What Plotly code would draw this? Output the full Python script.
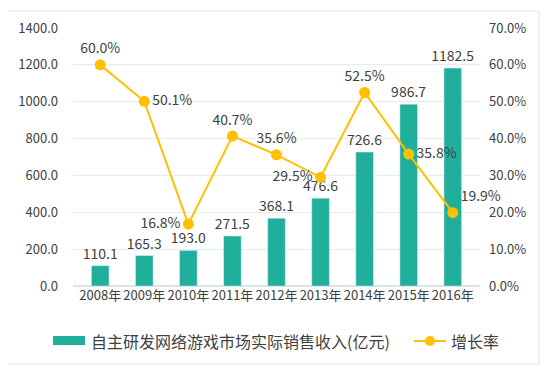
import plotly.graph_objects as go

years = ["2008年", "2009年", "2010年", "2011年", "2012年", "2013年", "2014年", "2015年", "2016年"]
revenue = [110.1, 165.3, 193.0, 271.5, 368.1, 476.6, 726.6, 986.7, 1182.5]
growth = [0.600, 0.501, 0.168, 0.407, 0.356, 0.295, 0.525, 0.358, 0.199]
growth_pos = ["top center", "middle right", "middle left", "top center", "top center",
              "middle left", "top center", "middle right", "top right"]
bar_name = "自主研发网络游戏市场实际销售收入(亿元)"
line_name = "增长率"

FONT = "Noto Sans CJK SC, Noto Sans, sans-serif"
TXT = "#404040"
TEAL = "#1FAF9B"
GOLD = "#FFC000"

OFF = 8  # page body margin
W, H = 556 - OFF, 384 - OFF
L, T = 73 - OFF, 28 - OFF
R = W - (480 - OFF)
B = H - (286 - OFF)
PW, PH = W - L - R, H - T - B


def px(x):
    return (x - OFF - L) / PW


def py(y):
    return (H - B - (y - OFF)) / PH


fig = go.Figure()
fig.add_trace(go.Bar(
    x=years, y=revenue, name=bar_name,
    marker=dict(color=TEAL), width=0.4,
    text=[f"{v:.1f}" for v in revenue], textposition="outside", constraintext="none",
    textfont=dict(size=14, color=TXT, family=FONT), cliponaxis=False,
))
fig.add_trace(go.Scatter(
    x=years, y=growth, name=line_name, yaxis="y2", mode="lines+markers+text",
    line=dict(color=GOLD, width=2), marker=dict(size=11, color=GOLD),
    text=[f"{v*100:.1f}%" for v in growth], textposition=growth_pos,
    textfont=dict(size=14, color=TXT, family=FONT), cliponaxis=False,
))

fig.update_layout(
    width=W, height=H,
    margin=dict(l=L, r=R, t=T, b=B, autoexpand=False),
    paper_bgcolor="white", plot_bgcolor="white",
    font=dict(family=FONT, size=13, color=TXT),
    showlegend=False,
    xaxis=dict(showgrid=False, showline=False, ticks="", automargin=False,
               tickfont=dict(size=13, color=TXT)),
    yaxis=dict(range=[0, 1400], dtick=200, tickformat=".1f", showgrid=True,
               gridcolor="#E3EEEE", zeroline=True, zerolinecolor="#D9E6E6",
               ticks="", automargin=False, tickfont=dict(size=13, color=TXT),
               ticklabelstandoff=14),
    yaxis2=dict(range=[0, 0.7], dtick=0.1, tickformat=".1%", overlaying="y", side="right",
                showgrid=False, zeroline=False, ticks="", automargin=False,
                tickfont=dict(size=13, color=TXT), ticklabelstandoff=8),
)

# chart border
fig.add_shape(type="rect", xref="paper", yref="paper",
              x0=px(6), x1=px(539), y0=py(364), y1=py(11),
              line=dict(color="#DCE9E9", width=1), layer="below")

# manual legend
fig.add_shape(type="rect", xref="paper", yref="paper",
              x0=px(53), x1=px(85), y0=py(345), y1=py(336),
              fillcolor=TEAL, line=dict(width=0))
fig.add_annotation(xref="paper", yref="paper", x=px(89), y=py(341), xanchor="left",
                   yanchor="middle", text=bar_name, showarrow=False,
                   font=dict(size=16, color=TXT, family=FONT))
fig.add_shape(type="line", xref="paper", yref="paper",
              x0=px(414), x1=px(446), y0=py(341), y1=py(341),
              line=dict(color=GOLD, width=2))
fig.add_shape(type="circle", xref="paper", yref="paper",
              x0=px(425), x1=px(435), y0=py(346), y1=py(336),
              fillcolor=GOLD, line=dict(width=0))
fig.add_annotation(xref="paper", yref="paper", x=px(449), y=py(341), xanchor="left",
                   yanchor="middle", text=line_name, showarrow=False,
                   font=dict(size=16, color=TXT, family=FONT))

fig.write_html("out.html")
